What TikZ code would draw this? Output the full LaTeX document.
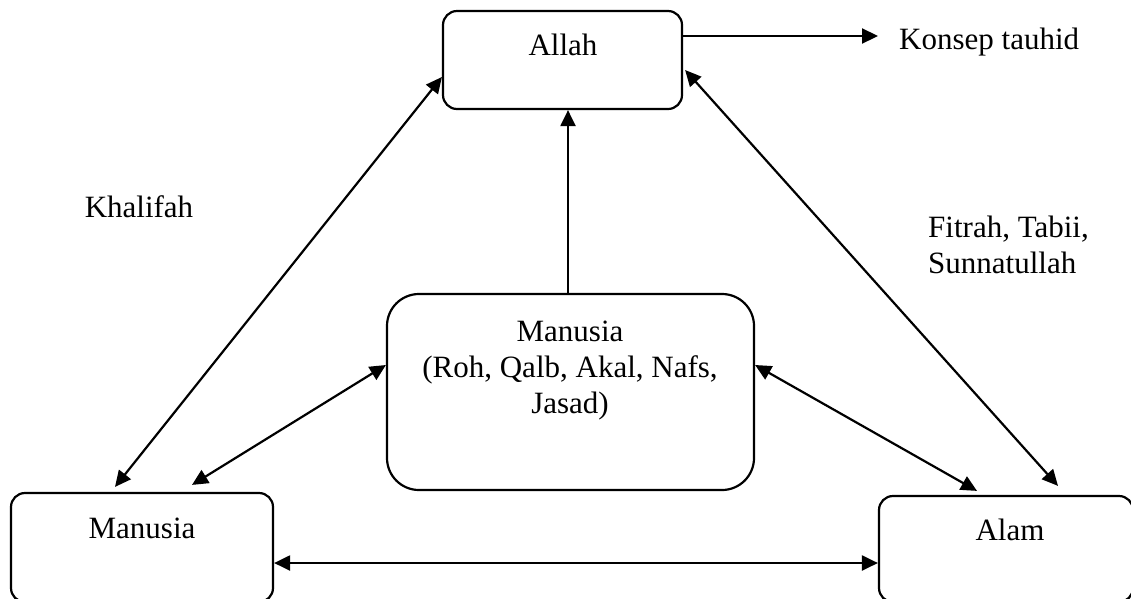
\documentclass[tikz,border=0pt]{standalone}
\usepackage{fontspec}
\setmainfont{Liberation Serif}
\usetikzlibrary{arrows.meta,positioning,calc}
\tikzset{
  kotak/.style={draw,line width=2.2pt,rounded corners=14pt,inner sep=0pt},
  teks/.style={inner sep=0pt,font=\fontsize{31}{36}\selectfont},
  panah/.style={line width=2.2pt,-{Triangle[length=16pt,width=15pt]}},
  panahdua/.style={line width=2.2pt,{Triangle[length=16pt,width=15pt]}-{Triangle[length=16pt,width=15pt]}}
}
\begin{document}
\begin{tikzpicture}[x=1pt,y=-1pt]
\useasboundingbox (0,0) rectangle (1131,598);
\node[kotak,minimum width=239pt,minimum height=98pt] (allah) at (562.5,60) {};
\node[kotak,rounded corners=32pt,minimum width=367pt,minimum height=196pt] (inti) at (570.5,392) {};
\node[kotak,minimum width=262pt,minimum height=109pt] (manusia) at (142,547.5) {};
\node[kotak,minimum width=254pt,minimum height=106pt] (alam) at (1006,549) {};
\node[teks,anchor=base] (tallah) at (563,55) {Allah};
\node[teks,anchor=base west] (konsep) at (899,49) {Konsep tauhid};
\node[teks,anchor=base] (khalifah) at (139,217) {Khalifah};
\node[teks,anchor=north west,align=left] (fitrah) at (928,216) {Fitrah, Tabii,\\Sunnatullah};
\node[teks,anchor=north,align=center] (tinti) at (570,321) {Manusia\\(Roh, Qalb, Akal, Nafs,\\Jasad)};
\node[teks,anchor=base] (tmanusia) at (142,538) {Manusia};
\node[teks,anchor=base] (talam) at (1010,540) {Alam};
\coordinate (tauhid) at (878,36);
\draw[panah] ([yshift=24pt]allah.east) -- (tauhid);
\draw[panah] ([xshift=-2.5pt]inti.north) -- ([xshift=-2.5pt]inti.north |- allah.south);
\draw[panahdua] ([xshift=-27pt,yshift=5pt]manusia.north) -- ([yshift=-17pt]allah.west);
\draw[panahdua] ([xshift=52pt,yshift=9pt]alam.north) -- ([xshift=2pt,yshift=-10pt]allah.east);
\draw[panahdua] ([yshift=27pt]inti.west) -- ([xshift=50pt,yshift=7pt]manusia.north);
\draw[panahdua] ([yshift=27pt]inti.east) -- ([xshift=-29pt,yshift=4pt]alam.north);
\draw[panahdua] ([yshift=-15.5pt]manusia.east) -- ([yshift=-15.5pt]manusia.east -| alam.west);
\end{tikzpicture}
\end{document}
